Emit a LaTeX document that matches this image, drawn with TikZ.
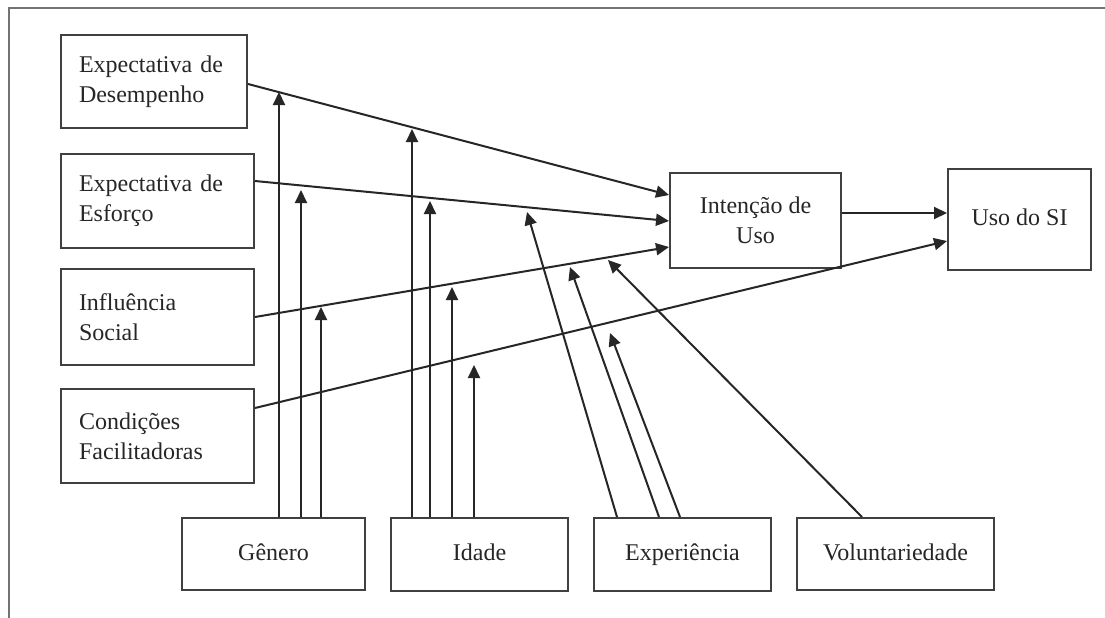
\documentclass[tikz,border=0pt]{standalone}
\usepackage{fontspec}
\setmainfont{Liberation Serif}
\usetikzlibrary{arrows.meta,calc}
\begin{document}
\begin{tikzpicture}[x=1pt,y=-1pt,
  frame/.style={draw=black!55, line width=2pt},
  box/.style={draw=black!75, line width=2pt, font=\fontsize{24}{30}\selectfont, text=black!85, inner ysep=2pt},
  lbox/.style={box, align=left, inner xsep=18pt},
  cbox/.style={box, align=center, inner xsep=2pt},
  oneline/.style={text height=17pt, text depth=5pt},
  conn/.style={draw=black!85, line width=2pt, -{Triangle[length=13pt,width=12pt]}},
]
\useasboundingbox (0,0) rectangle (1105,618);
\fill[white] (0,0) rectangle (1105,618);
\draw[frame] (1105,8) -- (9,8) -- (9,618);

% left boxes
\node[lbox, text width=150pt, minimum height=93pt] (ed) at (154,81.5) {Expectativa de\\Desempenho};
\node[lbox, text width=157pt, minimum height=94pt] (ee) at (157.5,201) {Expectativa de\\Esforço};
\node[lbox, text width=157pt, minimum height=96pt] (is) at (157.5,317) {Influência\\Social};
\node[lbox, text width=157pt, minimum height=94pt] (cf) at (157.5,436) {Condições\\Facilitadoras};

% right boxes
\node[cbox, minimum width=171pt, minimum height=95pt] (iu) at (755.5,220.5) {Intenção de\\Uso};
\node[cbox, oneline, minimum width=143pt, minimum height=101pt] (us) at (1019.5,219.5) {Uso do SI};

% bottom boxes
\node[cbox, oneline, minimum width=183pt, minimum height=72pt] (ge) at (273.5,554) {Gênero};
\node[cbox, oneline, minimum width=177pt, minimum height=73pt] (id) at (479.5,554.5) {Idade};
\node[cbox, oneline, minimum width=177pt, minimum height=73pt] (ex) at (682.5,554.5) {Experiência};
\node[cbox, oneline, minimum width=197pt, minimum height=72pt] (vo) at (895.5,554) {Voluntariedade};

% main paths
\draw[conn] ($(ed.east)+(0,2.5)$) -- ($(iu.west)+(0,-25.5)$);
\draw[conn] ($(ee.east)+(0,-20)$) -- ($(iu.west)+(0,0.5)$);
\draw[conn] (is.east) -- ($(iu.west)+(0,26.5)$);
\draw[conn] ($(cf.east)+(0,-28)$) -- ($(us.west)+(0,21.5)$);
\draw[conn] ($(iu.east)+(0,-7.5)$) -- ($(us.west)+(0,-6.5)$);

% moderator tips
\coordinate (g1) at (279,92);
\coordinate (g2) at (301,190);
\coordinate (g3) at (321,307);
\coordinate (i1) at (412,129);
\coordinate (i2) at (430,201);
\coordinate (i3) at (452,287);
\coordinate (i4) at (474,365);
\coordinate (x1) at (527,212);
\coordinate (x2) at (570,267);
\coordinate (x3) at (610,333);
\coordinate (v1) at (608,260);

\draw[conn] (g1 |- ge.north) -- (g1);
\draw[conn] (g2 |- ge.north) -- (g2);
\draw[conn] (g3 |- ge.north) -- (g3);
\draw[conn] (i1 |- id.north) -- (i1);
\draw[conn] (i2 |- id.north) -- (i2);
\draw[conn] (i3 |- id.north) -- (i3);
\draw[conn] (i4 |- id.north) -- (i4);
\draw[conn] ($(ex.north west)+(24,0)$) -- (x1);
\draw[conn] ($(ex.north west)+(66,0)$) -- (x2);
\draw[conn] ($(ex.north west)+(87,0)$) -- (x3);
\draw[conn] ($(vo.north west)+(66,0)$) -- (v1);
\end{tikzpicture}
\end{document}
